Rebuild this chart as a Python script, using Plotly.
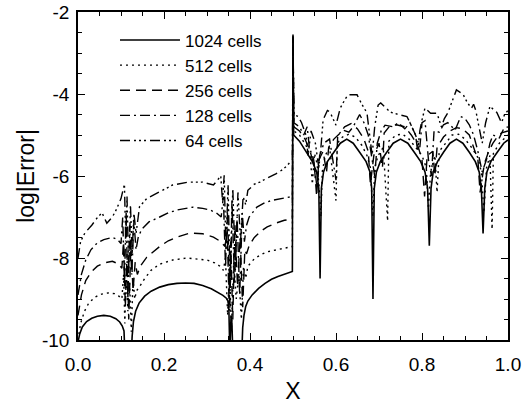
import plotly.graph_objects as go

# ---------------- data ----------------
x_1024 = [0.0, 0.004, 0.01, 0.02, 0.032, 0.045, 0.06, 0.075, 0.088, 0.097, 0.103, 0.107, 0.109, 0.115, 0.12, 0.124,
          0.126, 0.129, 0.134, 0.142, 0.155, 0.17, 0.19, 0.21, 0.23, 0.25, 0.27, 0.29, 0.31, 0.325, 0.337, 0.345,
          0.349, 0.351, 0.353, 0.356, 0.358, 0.36, 0.37, 0.378, 0.381, 0.383, 0.386, 0.39, 0.395, 0.405, 0.42,
          0.435, 0.45, 0.465, 0.48, 0.492, 0.4985, 0.5, 0.5015,
          0.515, 0.53, 0.545, 0.555, 0.56, 0.563, 0.566, 0.571, 0.58, 0.595, 0.61, 0.625, 0.64, 0.655, 0.67,
          0.679, 0.683, 0.686, 0.689, 0.694, 0.703, 0.718, 0.733, 0.75, 0.767, 0.782, 0.797, 0.807, 0.813,
          0.817, 0.821, 0.826, 0.836, 0.85, 0.865, 0.88, 0.895, 0.91, 0.924, 0.933, 0.938, 0.942, 0.946, 0.951,
          0.96, 0.975, 0.99, 1.0]
y_1024 = [-10.05, -9.85, -9.68, -9.55, -9.47, -9.42, -9.40, -9.42, -9.48, -9.56, -9.66, -9.78, -10.3, -10.3, -10.3,
          -10.3, -9.9, -9.55, -9.3, -9.1, -8.93, -8.81, -8.71, -8.65, -8.62, -8.61, -8.62, -8.67, -8.75, -8.83,
          -8.91, -8.98, -9.05, -9.3, -10.3, -9.4, -9.6, -10.3, -10.3, -10.3, -10.3, -9.7, -9.4, -9.18, -9.05,
          -8.9, -8.74, -8.62, -8.52, -8.45, -8.39, -8.35, -8.33, -2.55, -5.0,
          -5.15, -5.4, -5.65, -5.9, -6.3, -8.5, -6.3, -5.9, -5.65, -5.42, -5.2, -5.1, -5.2, -5.42, -5.65,
          -5.9, -6.3, -9.0, -6.3, -5.9, -5.65, -5.42, -5.2, -5.1, -5.2, -5.42, -5.65, -5.9, -6.3,
          -7.7, -6.3, -5.9, -5.65, -5.42, -5.2, -5.1, -5.2, -5.42, -5.65, -5.9, -6.3, -7.4, -6.3, -5.9,
          -5.65, -5.42, -5.2, -5.12]

x_512 = [0.0, 0.006, 0.015, 0.025, 0.04, 0.055, 0.07, 0.085, 0.095, 0.102,
         0.106, 0.109, 0.112, 0.116, 0.12, 0.124, 0.128, 0.132, 0.136,
         0.142, 0.155, 0.17, 0.19, 0.22, 0.253, 0.28, 0.3, 0.318, 0.33, 0.338,
         0.343, 0.348, 0.352, 0.357, 0.362, 0.368, 0.374, 0.38, 0.385, 0.39,
         0.395, 0.41, 0.425, 0.44, 0.46, 0.48, 0.49, 0.4985, 0.5,
         0.502, 0.515, 0.53, 0.54, 0.545, 0.55, 0.556, 0.561, 0.565, 0.568, 0.575, 0.585, 0.6, 0.603, 0.615,
         0.63, 0.645, 0.66, 0.672, 0.68, 0.686, 0.69, 0.698, 0.71, 0.72, 0.723, 0.74, 0.755, 0.77, 0.785,
         0.8, 0.81, 0.815, 0.82, 0.83, 0.835, 0.84, 0.855, 0.87, 0.885, 0.9, 0.915, 0.93, 0.938, 0.944,
         0.95, 0.958, 0.963, 0.966, 0.98, 1.0]
y_512 = [-10.0, -9.6, -9.3, -9.1, -8.95, -8.88, -8.85, -8.87, -8.93, -9.0,
         -8.4, -9.6, -8.2, -9.3, -8.6, -9.8, -8.5, -9.0, -8.8,
         -8.72, -8.5, -8.3, -8.15, -8.05, -8.0, -8.02, -8.05, -8.12, -8.2, -8.3,
         -8.0, -9.4, -8.3, -9.7, -8.1, -9.0, -8.4, -9.5, -8.2, -8.5,
         -8.2, -8.02, -7.92, -7.85, -7.8, -7.75, -7.73, -7.72, -2.6,
         -4.9, -5.0, -5.25, -5.5, -6.2, -5.45, -5.7, -6.3, -7.0, -5.9, -5.5, -5.3, -6.6, -5.2, -5.05,
         -4.98, -5.05, -5.25, -5.5, -5.8, -7.0, -5.8, -5.5, -5.3, -7.1, -5.15, -5.0, -4.98, -5.1, -5.3,
         -5.5, -5.8, -6.8, -5.9, -5.5, -6.4, -5.4, -5.2, -5.0, -4.98, -5.1, -5.3, -5.55, -5.9, -6.9,
         -5.8, -5.5, -7.3, -5.45, -5.2, -5.0]

x_256 = [0.0, 0.008, 0.018, 0.03, 0.045, 0.06, 0.08, 0.095, 0.102,
         0.106, 0.11, 0.114, 0.118, 0.123, 0.128, 0.133, 0.138,
         0.145, 0.16, 0.175, 0.19, 0.21, 0.23, 0.26, 0.29, 0.315, 0.332, 0.342,
         0.347, 0.351, 0.355, 0.36, 0.365, 0.371, 0.377, 0.383, 0.388, 0.392,
         0.398, 0.41, 0.425, 0.44, 0.46, 0.48, 0.4985, 0.5,
         0.502, 0.515, 0.528, 0.54, 0.55, 0.555, 0.56, 0.57, 0.578, 0.583, 0.595, 0.61, 0.62, 0.635, 0.65,
         0.665, 0.675, 0.68, 0.688, 0.7, 0.708, 0.712, 0.725, 0.74, 0.76, 0.775, 0.79, 0.8, 0.806, 0.812,
         0.825, 0.83, 0.835, 0.85, 0.865, 0.88, 0.895, 0.91, 0.92, 0.93, 0.935, 0.945, 0.955, 0.965, 0.975,
         0.985, 1.0]
y_256 = [-9.4, -8.9, -8.55, -8.35, -8.2, -8.12, -8.08, -8.15, -8.25,
         -7.6, -9.2, -7.9, -9.5, -7.7, -8.8, -8.1, -8.4,
         -8.2, -7.98, -7.85, -7.72, -7.58, -7.49, -7.39, -7.41, -7.49, -7.6, -7.72,
         -7.3, -9.0, -7.6, -9.5, -7.2, -8.7, -7.5, -9.2, -7.8, -7.9,
         -7.7, -7.5, -7.35, -7.24, -7.15, -7.08, -7.05, -2.6,
         -4.8, -4.9, -5.1, -5.4, -5.8, -6.5, -5.6, -5.4, -5.9, -5.3, -5.1, -4.95, -4.8, -4.72, -4.85,
         -5.1, -5.4, -6.2, -5.5, -5.2, -5.8, -4.95, -4.78, -4.75, -4.8, -5.0, -5.25, -5.6, -6.5, -5.5,
         -5.4, -6.0, -5.3, -5.05, -4.9, -4.82, -4.85, -5.0, -5.3, -5.6, -6.4, -5.7, -5.4, -5.2, -5.05,
         -4.95, -4.9]

x_128 = [0.0, 0.008, 0.018, 0.03, 0.045, 0.06, 0.08, 0.092, 0.1,
         0.104, 0.108, 0.112, 0.116, 0.12, 0.125, 0.13, 0.135, 0.14,
         0.148, 0.165, 0.19, 0.21, 0.23, 0.267, 0.29, 0.307, 0.322, 0.333,
         0.338, 0.343, 0.348, 0.353, 0.358, 0.364, 0.37, 0.376, 0.382, 0.387, 0.392,
         0.398, 0.416, 0.435, 0.453, 0.47, 0.486, 0.4985, 0.5,
         0.502, 0.515, 0.525, 0.533, 0.538, 0.548, 0.556, 0.562, 0.572, 0.585, 0.6, 0.604, 0.616, 0.63,
         0.64, 0.655, 0.665, 0.675, 0.683, 0.69, 0.696, 0.705, 0.714, 0.733, 0.745, 0.76, 0.772, 0.785,
         0.795, 0.8, 0.807, 0.815, 0.822, 0.828, 0.84, 0.85, 0.86, 0.877, 0.89, 0.9, 0.91, 0.92, 0.93,
         0.94, 0.95, 0.958, 0.965, 0.98, 0.99, 1.0]
y_128 = [-8.9, -8.4, -8.05, -7.8, -7.63, -7.55, -7.5, -7.55, -7.65,
         -7.0, -8.6, -6.9, -9.0, -7.2, -8.4, -7.1, -7.8, -7.5,
         -7.3, -7.12, -7.0, -6.9, -6.83, -6.76, -6.79, -6.83, -6.9, -7.0,
         -6.5, -8.2, -6.8, -9.3, -6.6, -8.6, -7.0, -8.9, -6.9, -7.6, -7.2,
         -7.0, -6.76, -6.65, -6.59, -6.56, -6.54, -6.5, -2.6,
         -4.7, -4.8, -5.0, -4.8, -5.3, -5.6, -6.3, -5.5, -5.2, -5.1, -6.1, -5.0, -4.88, -4.93,
         -4.8, -4.5, -4.7, -5.0, -5.6, -6.0, -5.2, -4.9, -4.76, -4.8, -4.7, -4.85, -4.7, -5.0,
         -5.3, -4.7, -4.65, -5.6, -6.0, -4.9, -4.93, -4.75, -4.7, -4.88, -4.55, -4.6, -4.75, -5.0, -5.4,
         -5.9, -5.6, -5.2, -5.0, -5.07, -4.85, -4.8]

x_64 = [0.0, 0.006, 0.016, 0.032, 0.046, 0.056, 0.067, 0.08, 0.09, 0.1, 0.108,
        0.111, 0.114, 0.118, 0.122, 0.126, 0.13, 0.135, 0.14,
        0.143, 0.16, 0.19, 0.22, 0.256, 0.29, 0.315, 0.325, 0.332,
        0.336, 0.34, 0.344, 0.349, 0.354, 0.36, 0.366, 0.372, 0.378, 0.384, 0.39,
        0.395, 0.41, 0.423, 0.44, 0.46, 0.475, 0.486, 0.4985, 0.5,
        0.502, 0.512, 0.52, 0.53, 0.535, 0.542, 0.552, 0.56, 0.565, 0.57, 0.58, 0.586, 0.6, 0.61, 0.62,
        0.628, 0.649, 0.66, 0.672, 0.678, 0.684, 0.69, 0.698, 0.704, 0.726, 0.745, 0.765, 0.772, 0.785,
        0.79, 0.795, 0.8, 0.807, 0.82, 0.835, 0.845, 0.852, 0.86, 0.873, 0.88, 0.895, 0.905, 0.915, 0.92,
        0.925, 0.932, 0.94, 0.948, 0.958, 0.974, 0.985, 0.992, 1.0]
y_64 = [-8.0, -7.6, -7.39, -7.2, -7.0, -6.9, -7.15, -7.0, -6.8, -6.55, -6.2,
        -7.6, -6.5, -8.4, -6.7, -7.9, -6.9, -7.4, -7.0,
        -6.75, -6.55, -6.39, -6.22, -6.15, -6.15, -6.22, -6.1, -6.0,
        -6.6, -5.98, -7.8, -6.2, -8.8, -6.3, -8.3, -6.4, -7.6, -6.5, -6.7,
        -6.35, -6.2, -6.15, -6.05, -5.95, -5.85, -5.75, -5.6, -2.6,
        -4.5, -4.55, -4.7, -5.0, -5.5, -4.9, -5.2, -5.8, -5.3, -4.63, -4.4, -4.44, -4.76, -4.34, -4.15,
        -4.02, -4.02, -4.25, -4.46, -5.0, -5.5, -4.8, -4.27, -4.22, -4.44, -4.5, -4.55, -4.7, -5.0,
        -5.4, -4.9, -4.63, -4.34, -4.47, -4.47, -4.8, -4.6, -4.46, -4.07, -3.9, -4.0, -4.2, -4.35, -4.25,
        -4.4, -4.8, -5.2, -4.7, -4.3, -4.45, -4.7, -4.5, -4.4]

series_names = ["1024 cells", "512 cells", "256 cells", "128 cells", "64 cells"]
x_tickvals = [0.0, 0.2, 0.4, 0.6, 0.8, 1.0]
x_ticktext = ["0.0", "0.2", "0.4", "0.6", "0.8", "1.0"]
y_tickvals = [-10, -8, -6, -4, -2]
y_ticktext = ["-10", "-8", "-6", "-4", "-2"]

# ---------------- figure ----------------
xs = [x_1024, x_512, x_256, x_128, x_64]
ys = [y_1024, y_512, y_256, y_128, y_64]
dashes = ["solid", "2px,4px", "10px,6px", "10px,4px,2px,4px",
          "10px,4px,2px,3px,2px,3px,2px,4px"]
widths = [1.6, 1.4, 1.4, 1.4, 1.4]

fig = go.Figure()
for name, x, y, d, w in zip(series_names, xs, ys, dashes, widths):
    fig.add_trace(go.Scatter(x=x, y=y, mode="lines", name=name,
                             line=dict(color="black", width=w, dash=d)))

font_family = "Liberation Sans, Arial, Helvetica, sans-serif"
axis_common = dict(showline=True, linecolor="black", linewidth=1.5, mirror="ticks",
                   ticks="inside", ticklen=7, tickwidth=1.2, tickcolor="black",
                   showgrid=False, zeroline=False, automargin=False,
                   tickfont=dict(family=font_family, size=19, color="black"))

fig.update_layout(
    width=525, height=404,
    margin=dict(l=78, r=17, t=12, b=64),
    paper_bgcolor="white", plot_bgcolor="white",
    font=dict(family=font_family, size=19, color="black"),
    showlegend=True,
    legend=dict(x=0.086, y=0.968, xanchor="left", yanchor="top",
                bgcolor="rgba(0,0,0,0)", borderwidth=0,
                font=dict(family=font_family, size=17, color="black"),
                itemwidth=60, tracegroupgap=0),
)
fig.update_xaxes(range=[0, 1], tickvals=x_tickvals, ticktext=x_ticktext,
                 minor=dict(dtick=0.05, ticks="inside", ticklen=4, tickcolor="black"),
                 ticklabelstandoff=6,
                 title=dict(text="X", standoff=11), **axis_common)
fig.update_yaxes(range=[-10, -2], tickvals=y_tickvals, ticktext=y_ticktext,
                 minor=dict(dtick=0.5, ticks="inside", ticklen=4, tickcolor="black"),
                 ticklabelstandoff=3,
                 title=dict(text="log|Error|", standoff=1), **axis_common)

fig.write_html("out.html")
